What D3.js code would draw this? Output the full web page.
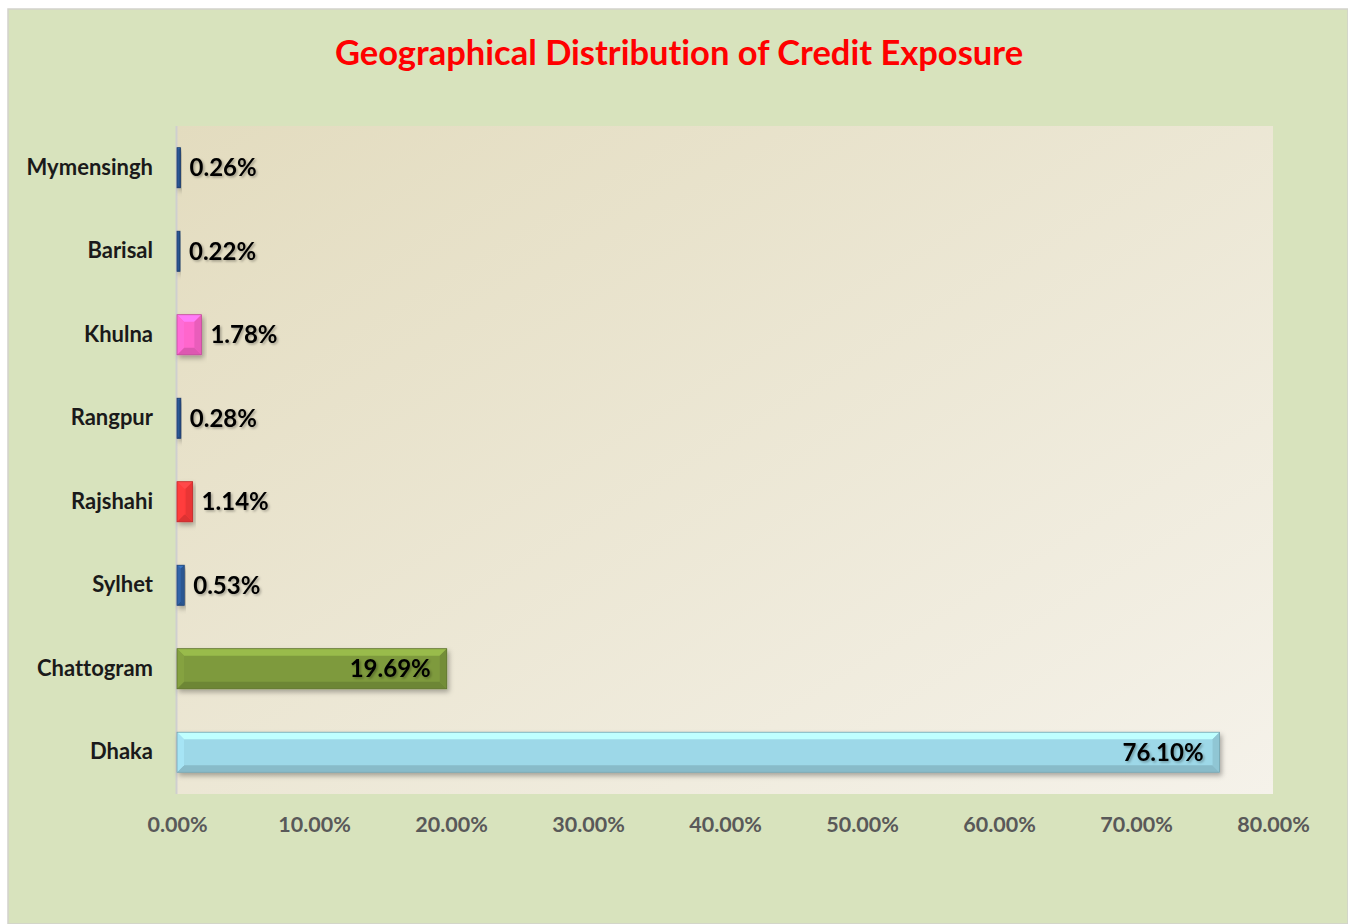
<!DOCTYPE html>
<html>
<head>
<meta charset="utf-8">
<script src="https://cdn.jsdelivr.net/npm/d3@7"></script>
<style>
  body { margin: 0; background: #fff; }
  svg { display: block; }
  text { font-family: Lato, "Open Sans", sans-serif; font-weight: bold; font-variant-ligatures: none; }
</style>
</head>
<body>
<svg id="chart" width="1348" height="924"></svg>
<script>
// data, top to bottom as drawn
const regions = ['Mymensingh', 'Barisal', 'Khulna', 'Rangpur', 'Rajshahi', 'Sylhet', 'Chattogram', 'Dhaka']
const shares = [0.26, 0.22, 1.78, 0.28, 1.14, 0.53, 19.69, 76.10]
const barColors = ['#2a5490', '#2a5490', '#ff66cc', '#2a5490', '#ff3b3b', '#2f5fa0', '#7e9a3e', '#9dd8e8']
const xTicks = [0, 10, 20, 30, 40, 50, 60, 70, 80]

const width = 1348
const height = 924
const margin = { left: 177, right: 75, top: 126, bottom: 130 }

const svg = d3.select('#chart')

const defs = svg.append('defs')
const bg = defs.append('linearGradient').attr('id', 'plotBg')
  .attr('x1', '0%').attr('y1', '0%').attr('x2', '100%').attr('y2', '100%')
bg.append('stop').attr('offset', '0%').attr('stop-color', '#e3dcbf')
bg.append('stop').attr('offset', '100%').attr('stop-color', '#f5f2ea')

const shadow = defs.append('filter').attr('id', 'barShadow')
  .attr('x', '-20%').attr('y', '-30%').attr('width', '140%').attr('height', '170%')
shadow.append('feDropShadow').attr('dx', 2).attr('dy', 3).attr('stdDeviation', 2.5)
  .attr('flood-color', '#000').attr('flood-opacity', 0.3)

const txtShadow = defs.append('filter').attr('id', 'txtShadow')
txtShadow.append('feDropShadow').attr('dx', 1.5).attr('dy', 1.5).attr('stdDeviation', 1)
  .attr('flood-color', '#000').attr('flood-opacity', 0.3)

// outer panel
svg.append('rect').attr('x', 8).attr('y', 9).attr('width', width - 8).attr('height', height - 9)
  .attr('fill', '#d8e3bd').attr('stroke', '#d2d2cc').attr('stroke-width', 1.5)

const x = d3.scaleLinear().domain([0, 80]).range([margin.left, width - margin.right])
const y = d3.scaleBand().domain(regions).range([margin.top, height - margin.bottom]).paddingInner(0.52).paddingOuter(0.26)

// plot area
svg.append('rect').attr('x', x(0)).attr('y', margin.top)
  .attr('width', x(80) - x(0)).attr('height', height - margin.bottom - margin.top)
  .attr('fill', 'url(#plotBg)')

// title
svg.append('text').attr('x', 679).attr('y', 65).attr('text-anchor', 'middle')
  .attr('fill', '#ff0000').style('font-size', '34.5px')
  .text('Geographical Distribution of Credit Exposure')

// x axis labels
const xAxis = d3.axisBottom(x).tickValues(xTicks).tickSize(0).tickPadding(0)
  .tickFormat(d => d.toFixed(2) + '%')
const gx = svg.append('g').attr('transform', `translate(0,${height - margin.bottom + 38})`).call(xAxis)
gx.select('.domain').remove()
gx.selectAll('text').attr('fill', '#595959').style('font-size', '21.5px').attr('dy', 0)

// y axis labels
const yAxis = d3.axisLeft(y).tickSize(0).tickPadding(24)
const gy = svg.append('g').attr('transform', `translate(${x(0)},0)`).call(yAxis)
gy.select('.domain').remove()
gy.selectAll('text').attr('fill', '#1a1a1a').style('font-size', '22px').attr('dy', '0.32em')

// vertical axis line
svg.append('line').attr('x1', x(0) - 0.5).attr('x2', x(0) - 0.5)
  .attr('y1', margin.top).attr('y2', height - margin.bottom)
  .attr('stroke', '#cfcfcf').attr('stroke-width', 2)

// bars with bevel
const bars = svg.append('g').selectAll('g').data(regions).join('g')
  .attr('filter', 'url(#barShadow)')

bars.each(function(d, i) {
  const g = d3.select(this)
  const x0 = x(0), x1 = x(shares[i]), y0 = y(d), h = y.bandwidth(), y1 = y0 + h
  const c = d3.color(barColors[i])
  const b = Math.min(7, (x1 - x0) / 2, h / 2)
  g.append('rect').attr('x', x0).attr('y', y0).attr('width', x1 - x0).attr('height', h).attr('fill', c)
  // top bevel
  g.append('path').attr('d', `M${x0},${y0}L${x1},${y0}L${x1 - b},${y0 + b}L${x0 + b},${y0 + b}Z`)
    .attr('fill', c.brighter(0.55))
  // bottom bevel
  g.append('path').attr('d', `M${x0},${y1}L${x1},${y1}L${x1 - b},${y1 - b}L${x0 + b},${y1 - b}Z`)
    .attr('fill', c.darker(0.4))
  // right bevel
  g.append('path').attr('d', `M${x1},${y0}L${x1},${y1}L${x1 - b},${y1 - b}L${x1 - b},${y0 + b}Z`)
    .attr('fill', c.darker(0.25))
  // left bevel
  g.append('path').attr('d', `M${x0},${y0}L${x0},${y1}L${x0 + b},${y1 - b}L${x0 + b},${y0 + b}Z`)
    .attr('fill', c.brighter(0.15))
  g.append('rect').attr('x', x0).attr('y', y0).attr('width', x1 - x0).attr('height', h)
    .attr('fill', 'none').attr('stroke', c.darker(0.8)).attr('stroke-width', 0.8)
})

// value labels
svg.append('g').selectAll('text').data(regions).join('text')
  .attr('filter', 'url(#txtShadow)')
  .attr('x', (d, i) => shares[i] > 10 ? x(shares[i]) - 16 : x(shares[i]) + 9)
  .attr('y', d => y(d) + y.bandwidth() / 2)
  .attr('dy', '0.36em')
  .attr('text-anchor', (d, i) => shares[i] > 10 ? 'end' : 'start')
  .attr('fill', '#000')
  .style('font-size', '24px')
  .text((d, i) => shares[i].toFixed(2) + '%')
</script>
</body>
</html>
